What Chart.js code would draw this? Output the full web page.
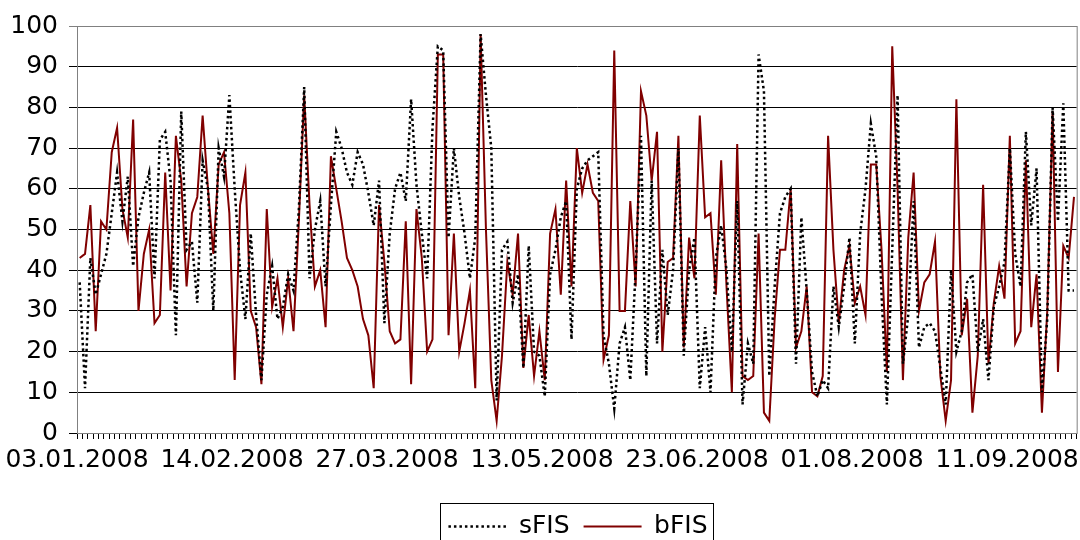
<!DOCTYPE html>
<html>
<head>
<meta charset="utf-8">
<script src="https://cdn.jsdelivr.net/npm/chart.js@4.4.1/dist/chart.umd.min.js"></script>
<style>
  html, body { margin: 0; padding: 0; background: #fff; }
</style>
</head>
<body>
<canvas id="chart" width="1080" height="540"></canvas>
<script>
// tick labels every 29 trading days
const tickLabels = ['03.01.2008', '14.02.2008', '27.03.2008', '13.05.2008', '23.06.2008', '01.08.2008', '11.09.2008']
const labelStep = 29

const sFIS = [
    37, 11, 43, 34, 39, 44, 54, 64, 52, 63, 41, 53, 59, 64, 38, 72, 74, 62, 24, 79,
    45, 47, 32, 67, 60, 30, 70, 63, 83, 60, 40, 28, 49, 29, 13, 34, 41, 28, 31, 39,
    35, 55, 85, 38, 50, 57, 36, 56, 74, 70, 64, 61, 69, 66, 59, 51, 62, 27, 49, 60,
    64, 57, 82, 61, 49, 38, 75, 95, 94, 48, 70, 58, 49, 38, 48, 98, 83, 70, 8, 45,
    47, 32, 39, 16, 46, 20, 19, 9, 39, 45, 53, 57, 23, 60, 65, 67, 68, 69, 24, 17,
    6, 22, 26, 13, 40, 73, 14, 62, 22, 45, 29, 40, 70, 19, 40, 48, 11, 26, 10, 43,
    51, 40, 20, 57, 7, 22, 17, 93, 84, 14, 36, 54, 58, 60, 17, 53, 35, 15, 9, 13,
    11, 36, 26, 36, 48, 22, 49, 60, 76, 68, 34, 7, 45, 83, 17, 29, 57, 21, 26, 27,
    25, 16, 7, 40, 20, 25, 37, 39, 20, 28, 13, 31, 36, 42, 70, 44, 36, 74, 51, 65,
    10, 28, 80, 52, 81, 35, 35
]

const bFIS = [
    43, 44, 56, 25, 52, 50, 69, 75, 55, 48, 77, 30, 44, 50, 27, 29, 64, 35, 73, 62,
    36, 54, 58, 78, 60, 44, 66, 69, 54, 13, 56, 64, 30, 26, 12, 55, 31, 38, 26, 38,
    25, 52, 83, 56, 36, 40, 26, 68, 60, 52, 43, 40, 36, 28, 24, 11, 56, 42, 25, 22,
    23, 52, 12, 55, 43, 20, 23, 93, 93, 24, 49, 20, 27, 35, 11, 98, 50, 13, 3, 19,
    42, 34, 49, 16, 29, 14, 25, 13, 49, 55, 34, 62, 36, 70, 59, 66, 59, 57, 18, 24,
    94, 30, 30, 57, 36, 84, 78, 62, 74, 20, 42, 43, 73, 21, 48, 38, 78, 53, 54, 34,
    67, 36, 10, 71, 14, 13, 14, 49, 5, 3, 28, 45, 45, 60, 21, 25, 36, 10, 9, 14,
    73, 45, 27, 40, 46, 32, 36, 29, 66, 66, 45, 15, 95, 60, 13, 48, 64, 30, 37, 39,
    47, 14, 3, 13, 82, 24, 33, 5, 19, 61, 17, 32, 41, 33, 73, 22, 25, 67, 26, 39,
    5, 30, 79, 15, 46, 43, 58
]

const categories = sFIS.map((v, i) => i % labelStep === 0 ? (tickLabels[i / labelStep] || '') : '')

const font = { family: 'DejaVu Sans', size: 25 }

// grey frame round the plot area (top and right side)
const plotFrame = {
    id: 'plotFrame',
    beforeDatasetsDraw(chart) {
        const { ctx, chartArea: a } = chart
        ctx.save()
        ctx.strokeStyle = '#808080'
        ctx.lineWidth = 1
        ctx.strokeRect(a.left + 0.5, a.top + 0.5, a.right - a.left, a.bottom - a.top)
        ctx.restore()
    }
}

// legend sits right of centre, box drawn round it
const legendFrame = {
    id: 'legendFrame',
    afterLayout(chart) {
        chart.legend.left += 39
        chart.legend.right += 39
    },
    afterDraw(chart) {
        const boxes = chart.legend.legendHitBoxes
        if (!boxes || !boxes.length) return
        const ctx = chart.ctx
        const first = boxes[0]
        const last = boxes[boxes.length - 1]
        const x0 = first.left - 8
        const x1 = last.left + last.width + 6
        const y0 = first.top - 11
        ctx.save()
        ctx.strokeStyle = '#000'
        ctx.lineWidth = 1
        ctx.strokeRect(Math.round(x0) + 0.5, Math.round(y0) + 0.5, Math.round(x1 - x0), 60)
        ctx.restore()
    }
}

const ctx = document.getElementById('chart').getContext('2d')

const myChart = new Chart(ctx, {
    type: 'line',
    data: {
        labels: categories,
        datasets: [{
            label: 'sFIS',
            data: sFIS,
            borderColor: '#000',
            backgroundColor: '#000',
            borderWidth: 2.5,
            borderDash: [2.5, 3],
            pointRadius: 0,
            tension: 0,
            fill: false
        }, {
            label: 'bFIS',
            data: bFIS,
            borderColor: '#800000',
            backgroundColor: '#800000',
            borderWidth: 2,
            pointRadius: 0,
            tension: 0,
            fill: false
        }]
    },
    options: {
        responsive: false,
        animation: false,
        layout: { padding: { left: 0, right: 2, top: -4, bottom: -9 } },
        scales: {
            x: {
                offset: true,
                grid: {
                    drawOnChartArea: false,
                    drawTicks: true,
                    tickLength: 6,
                    color: '#000',
                    offset: true
                },
                border: { color: '#000', width: 1 },
                ticks: {
                    autoSkip: false,
                    maxRotation: 0,
                    minRotation: 0,
                    labelOffset: -2.7,
                    padding: 6,
                    color: '#000',
                    font: font
                },
                afterFit(scale) {
                    scale.height += 19
                }
            },
            y: {
                min: 0,
                max: 100,
                ticks: {
                    stepSize: 10,
                    padding: 11,
                    color: '#000',
                    font: font
                },
                grid: {
                    color: c => (c.tick && c.tick.value === 100) ? '#808080' : '#000',
                    lineWidth: 1,
                    tickLength: 8
                },
                border: { color: '#000', width: 1 },
                afterFit(scale) {
                    scale.width = 77
                }
            }
        },
        plugins: {
            legend: {
                position: 'bottom',
                labels: {
                    usePointStyle: true,
                    pointStyle: 'line',
                    pointStyleWidth: 58,
                    color: '#000',
                    font: font,
                    padding: 14,
                    generateLabels(chart) {
                        const items = Chart.defaults.plugins.legend.labels.generateLabels(chart)
                        items.forEach(item => {
                            const ds = chart.data.datasets[item.datasetIndex]
                            item.lineDash = ds.borderDash
                            item.strokeStyle = ds.borderColor
                            item.lineWidth = ds.borderWidth
                        })
                        return items
                    }
                }
            },
            tooltip: { enabled: false }
        }
    },
    plugins: [plotFrame, legendFrame]
})
</script>
</body>
</html>
